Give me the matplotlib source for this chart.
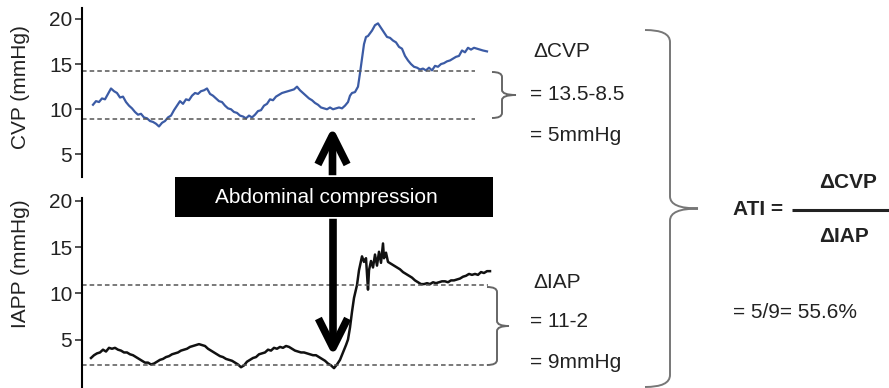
import matplotlib
matplotlib.use("Agg")
import matplotlib.pyplot as plt
from matplotlib.path import Path
from matplotlib.patches import PathPatch, Rectangle, FancyArrowPatch

plt.rcParams['font.family'] = ['Liberation Sans', 'DejaVu Sans']

# ---- data (sample index, mmHg) ----
cvp_t = [11, 14, 17, 20, 23, 26, 29, 32, 35, 38, 41, 44, 47, 50, 53, 56, 59, 62, 65, 68,
         71, 74, 77, 80, 83, 86, 89, 92, 95, 98, 101, 104, 107, 110, 113, 116, 119, 122, 125, 128,
         131, 134, 137, 140, 143, 146, 149, 152, 155, 158, 161, 164, 167, 170, 173, 176, 179, 182, 185, 188,
         191, 194, 197, 200, 203, 206, 209, 212, 215, 218, 221, 224, 227, 230, 233, 236, 239, 242, 245, 248,
         251, 254, 257, 260, 263, 266, 268, 270, 273, 276, 278, 280, 282, 284, 286, 288, 290, 293, 296, 299,
         302, 305, 308, 311, 314, 317, 320, 323, 326, 329, 332, 335, 338, 341, 344, 347, 350, 353, 356, 359,
         362, 365, 368, 371, 374, 377, 380, 383, 386, 389, 392, 395, 398, 401, 405]
cvp = [10.5, 10.9, 10.8, 11.2, 11.1, 11.7, 12.3, 12.0, 11.8, 11.3, 11.4, 10.8, 10.4, 10.1, 9.7, 9.4, 9.5, 9.1, 9.0, 8.7,
       8.6, 8.4, 8.1, 8.5, 8.7, 9.1, 9.3, 9.9, 10.4, 10.9, 10.6, 11.1, 11.0, 11.5, 11.8, 11.7, 12.0, 12.1, 12.3, 11.7,
       11.5, 11.2, 10.9, 10.8, 10.4, 10.1, 10.0, 9.7, 9.6, 9.3, 9.2, 9.0, 9.3, 9.1, 9.4, 9.8, 9.9, 10.4, 10.6, 11.1,
       11.0, 11.4, 11.6, 11.8, 11.9, 12.0, 12.1, 12.2, 12.5, 12.1, 11.8, 11.5, 11.2, 11.0, 10.7, 10.5, 10.2, 10.1, 10.0, 10.2,
       10.0, 10.1, 10.2, 10.1, 10.4, 10.8, 11.5, 11.8, 11.9, 12.5, 14.0, 15.6, 17.2, 18.0, 18.1, 18.4, 18.7, 19.3, 19.5, 19.0,
       18.5, 18.0, 17.9, 17.6, 17.4, 16.9, 16.7, 15.9, 15.4, 15.0, 14.7, 14.6, 14.4, 14.5, 14.3, 14.6, 14.3, 14.8, 14.7, 15.0,
       15.1, 15.3, 15.4, 15.6, 15.8, 15.9, 16.5, 16.3, 16.8, 16.6, 16.8, 16.7, 16.6, 16.5, 16.4]

iap_t = [9, 12, 15, 18, 21, 24, 27, 30, 33, 36, 39, 42, 45, 48, 51, 54, 57, 60, 63, 66,
         69, 72, 75, 78, 81, 84, 87, 90, 93, 96, 99, 102, 105, 108, 111, 114, 117, 120, 123, 126,
         129, 132, 135, 138, 141, 144, 147, 150, 153, 156, 159, 162, 165, 168, 171, 174, 177, 180, 183, 186,
         189, 192, 195, 198, 201, 204, 207, 210, 213, 216, 219, 222, 225, 228, 231, 234, 237, 240, 243, 246,
         249, 252, 255, 258, 261, 264, 266, 268, 270, 272, 275, 277, 279, 280, 282, 284, 285, 286, 287, 289,
         291, 293, 295, 297, 299, 301, 302, 304, 306, 309, 312, 315, 318, 321, 324, 327, 330, 333, 336, 339,
         342, 345, 348, 351, 354, 357, 360, 363, 366, 369, 372, 375, 378, 381, 384, 387, 390, 393, 396, 399,
         402, 405, 408]
iap = [3.0, 3.3, 3.5, 3.6, 3.9, 3.7, 4.1, 4.0, 4.1, 3.9, 3.8, 3.6, 3.6, 3.4, 3.3, 3.1, 2.9, 2.7, 2.5, 2.5,
       2.3, 2.4, 2.6, 2.8, 2.9, 3.1, 3.2, 3.4, 3.5, 3.6, 3.8, 3.9, 4.0, 4.2, 4.3, 4.4, 4.5, 4.4, 4.3, 4.0,
       3.8, 3.6, 3.4, 3.2, 3.1, 2.9, 2.8, 2.7, 2.5, 2.3, 2.0, 2.2, 2.6, 2.8, 3.0, 3.1, 3.4, 3.5, 3.6, 3.9,
       3.8, 4.1, 4.0, 4.2, 4.1, 4.3, 4.2, 4.0, 3.8, 3.7, 3.6, 3.6, 3.5, 3.4, 3.3, 3.3, 3.1, 2.9, 2.7, 2.4,
       2.2, 1.9, 2.3, 2.8, 3.6, 4.4, 5.0, 6.3, 8.0, 9.5, 10.9, 12.5, 13.5, 14.0, 13.4, 13.8, 12.0, 10.4, 12.5, 13.5,
       12.8, 14.2, 13.0, 14.5, 13.3, 15.4, 13.8, 14.4, 13.4, 13.2, 13.0, 12.8, 12.6, 12.3, 12.1, 11.9, 11.7, 11.4, 11.2, 11.0,
       11.0, 11.1, 11.0, 11.2, 11.1, 11.2, 11.3, 11.3, 11.2, 11.4, 11.4, 11.5, 11.6, 11.8, 11.9, 12.1, 12.0, 12.1, 12.0, 12.3,
       12.2, 12.4, 12.4]

cvp_levels = [14.2, 8.9]     # drawn reference levels
iap_levels = [10.9, 2.25]
cvp_ticks = [5, 10, 15, 20]
iap_ticks = [5, 10, 15, 20]

W, H = 889, 388
fig = plt.figure(figsize=(W / 100, H / 100), dpi=100)


def rect(x0, y0, x1, y1):
    # pixel box (top-left origin) -> figure fraction
    return [x0 / W, 1 - y1 / H, (x1 - x0) / W, (y1 - y0) / H]


def style_axis(ax, ticks, label, label_y):
    for s in ['top', 'right', 'bottom']:
        ax.spines[s].set_visible(False)
    ax.spines['left'].set_linewidth(1.5)
    ax.set_xticks([])
    ax.set_yticks(ticks)
    ax.tick_params(axis='y', direction='out', length=5, width=1.1, pad=2,
                   labelsize=15, colors='#222')
    ax.set_ylabel(label, fontsize=15, color='#222', va='center')
    ax.yaxis.set_label_coords(-0.146, label_y)
    ax.patch.set_alpha(0)


ax1 = fig.add_axes(rect(82, 8, 500, 177))
ax1.plot(cvp_t, cvp, color='#3b5ba5', lw=1.6)
ax1.hlines(cvp_levels, 0, 393, colors='#555', linestyles=(0, (3, 2)), lw=1.1)
ax1.set_xlim(0, 418)
ax1.set_ylim(2.51, 21.2)
style_axis(ax1, cvp_ticks, 'CVP (mmHg)', 0.53)

ax2 = fig.add_axes(rect(82, 198, 500, 387))
ax2.plot(iap_t, iap, color='#111', lw=1.8)
ax2.hlines(iap_levels, 0, 406, colors='#555', linestyles=(0, (3, 2)), lw=1.1)
ax2.set_xlim(0, 418)
ax2.set_ylim(-0.14, 20.32)
style_axis(ax2, iap_ticks, 'IAPP (mmHg)', 0.651)

# ---- overlay in pixel coordinates for annotations ----
ov = fig.add_axes([0, 0, 1, 1], zorder=10)
ov.set_xlim(0, W)
ov.set_ylim(H, 0)
ov.axis('off')
ov.patch.set_alpha(0)

ov.add_patch(Rectangle((175, 177), 318, 40, color='black', lw=0))
ov.text(326, 203, 'Abdominal compression', color='white', fontsize=15,
        ha='center', va='baseline')

arrow_style = '->,head_length=2.1,head_width=1.05'
ov.add_patch(FancyArrowPatch((332.5, 178), (332.5, 124), arrowstyle=arrow_style,
                             mutation_scale=10, lw=5.5, color='black',
                             joinstyle='round', capstyle='butt'))
ov.add_patch(FancyArrowPatch((333, 216), (333, 359), arrowstyle=arrow_style,
                             mutation_scale=10, lw=5.5, color='black',
                             joinstyle='round', capstyle='butt'))


def brace(x0, xv, xt, y0, y1, r, color, lw):
    ym = (y0 + y1) / 2
    verts = [(x0, y0), (xv, y0), (xv, y0 + r), (xv, ym - r), (xv, ym), (xt, ym),
             (xv, ym), (xv, ym + r), (xv, y1 - r), (xv, y1), (x0, y1)]
    codes = [Path.MOVETO, Path.CURVE3, Path.CURVE3, Path.LINETO, Path.CURVE3, Path.CURVE3,
             Path.CURVE3, Path.CURVE3, Path.LINETO, Path.CURVE3, Path.CURVE3]
    ov.add_patch(PathPatch(Path(verts, codes), fill=False, edgecolor=color, lw=lw))


brace(492, 502, 516, 72, 118, 5, '#666', 1.4)
brace(487, 497, 509, 287, 365, 5, '#666', 1.4)
brace(645, 670, 698, 30, 387, 12, '#777', 1.4)

txt = dict(fontsize=15, color='#222', ha='left', va='baseline')
ov.text(533, 57, '\u0394CVP', **txt)
ov.text(530, 100, '= 13.5-8.5', **txt)
ov.text(530, 141, '= 5mmHg', **txt)
ov.text(533, 288, '\u0394IAP', **txt)
ov.text(530, 327, '= 11-2', **txt)
ov.text(530, 368, '= 9mmHg', **txt)

ov.text(733, 215, 'ATI =', fontsize=15, fontweight='bold', color='#222', va='baseline')
ov.plot([792, 889], [210, 210], color='#222', lw=2.2, solid_capstyle='butt')
ov.text(848, 188, '\u0394CVP', fontsize=15, fontweight='bold', color='#222',
        ha='center', va='baseline')
ov.text(844, 242, '\u0394IAP', fontsize=15, fontweight='bold', color='#222',
        ha='center', va='baseline')
ov.text(733, 318, '= 5/9= 55.6%', **txt)

fig.savefig('out.png', dpi=100)
